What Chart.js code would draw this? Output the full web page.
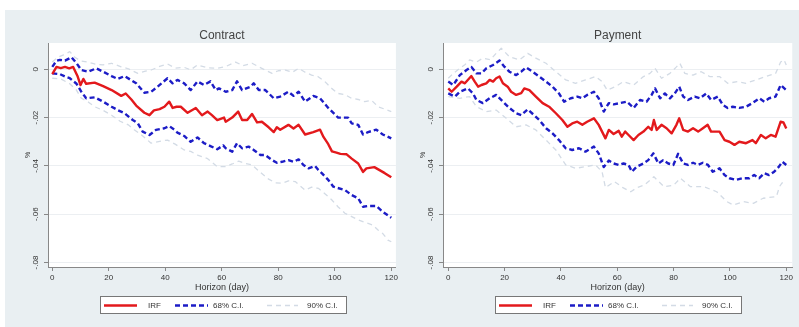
<!DOCTYPE html>
<html>
<head>
<meta charset="utf-8">
<script src="https://cdn.jsdelivr.net/npm/chart.js@4.4.1/dist/chart.umd.min.js"></script>
<style>
  body { margin: 0; background: #fff; width: 799px; height: 327px; overflow: hidden; position: relative; }
  #bg { position: absolute; left: 5px; top: 10px; right: 0; bottom: 0; background: #e9eff2; }
  .box { position: absolute; top: 0; width: 400px; height: 327px; }
</style>
</head>
<body>
<div id="bg"></div>
<div class="box" style="left:0"><canvas id="contract"></canvas></div>
<div class="box" style="left:395px"><canvas id="payment"></canvas></div>
<script>
// values: [day, %]
const xTickValues = [0, 20, 40, 60, 80, 100, 120];
const xTickLabels = ['0', '20', '40', '60', '80', '100', '120'];
const yTickValues = [-0.08, -0.06, -0.04, -0.02, 0];
const yTickLabels = ['-.08', '-.06', '-.04', '-.02', '0'];
const seriesNames = ['IRF', '68% C.I.', '90% C.I.'];

// Contract
const contractIrf = [[0,-0.002],[1.5,0.001],[3,0.0005],[4.5,0.001],[6,0.0004],[7.4,0.001],[9,-0.003],[10,-0.0065],[11,-0.004],[12,-0.006],[15,-0.0055],[18,-0.007],[21,-0.0086],[24.4,-0.011],[26,-0.010],[28,-0.0125],[29.7,-0.015],[32.6,-0.018],[34.4,-0.019],[36,-0.017],[38,-0.0165],[39.7,-0.0155],[41.4,-0.0134],[42.6,-0.016],[44,-0.0155],[45.5,-0.0155],[47.9,-0.018],[50.8,-0.016],[53,-0.019],[55,-0.0175],[56.5,-0.019],[58.4,-0.021],[60.8,-0.020],[61.4,-0.0217],[63.7,-0.020],[65.8,-0.0175],[67.2,-0.021],[69,-0.021],[70.7,-0.0185],[72.5,-0.022],[74.2,-0.0217],[76.6,-0.024],[78.4,-0.026],[79.5,-0.024],[80.7,-0.025],[83.6,-0.023],[85.4,-0.0245],[87.2,-0.023],[89.5,-0.027],[92.4,-0.026],[94.8,-0.025],[96,-0.028],[97.7,-0.031],[99,-0.034],[100.6,-0.0345],[102,-0.035],[104.2,-0.0352],[106,-0.037],[108.3,-0.039],[110,-0.0425],[111.2,-0.041],[114,-0.0405],[117.7,-0.043],[120,-0.0447]];
const contractHi68 = [[0,0.001],[1.5,0.0035],[2.7,0.0039],[4.5,0.0036],[6.8,0.005],[8.6,0.0025],[10.3,-0.0003],[12.7,-0.001],[15.6,0.0004],[18,-0.001],[21,-0.0028],[23.2,-0.004],[25.6,-0.0028],[29.7,-0.0058],[32.6,-0.0097],[35,-0.0093],[37.3,-0.0072],[40.8,-0.0037],[42.6,-0.0058],[44.3,-0.0044],[46.7,-0.0058],[49,-0.0086],[51.4,-0.005],[53.7,-0.0065],[56,-0.005],[57.9,-0.0086],[59,-0.0079],[61.4,-0.0093],[63.7,-0.0086],[65.4,-0.005],[67.2,-0.0086],[70.2,-0.0072],[71.3,-0.0058],[73.1,-0.0086],[75.4,-0.0086],[78.4,-0.012],[80.7,-0.0113],[83.6,-0.0093],[85.4,-0.011],[87.2,-0.0093],[89.5,-0.0134],[92.4,-0.011],[94.8,-0.012],[97.7,-0.016],[101.2,-0.020],[104.7,-0.020],[106,-0.0224],[108.3,-0.023],[110,-0.027],[111.8,-0.026],[114.7,-0.025],[117,-0.027],[120,-0.0286]];
const contractLo68 = [[0,-0.0017],[2.7,-0.002],[4.5,-0.003],[6.2,-0.0037],[8.6,-0.006],[10.3,-0.0093],[12,-0.012],[15,-0.0116],[18,-0.0134],[21,-0.0155],[23.2,-0.0169],[25.6,-0.0182],[28.5,-0.021],[30.3,-0.0224],[32,-0.0258],[34.4,-0.0272],[36.7,-0.0251],[39.7,-0.0244],[41.4,-0.0235],[43.2,-0.025],[44.3,-0.0262],[46.7,-0.0276],[49,-0.030],[51.4,-0.0282],[53.7,-0.0306],[56,-0.0318],[58.4,-0.0331],[60.5,-0.0315],[61.4,-0.0327],[63.7,-0.0341],[65.4,-0.0306],[67.2,-0.0327],[69.5,-0.032],[71.3,-0.0334],[73.7,-0.0355],[75.4,-0.0355],[77.8,-0.0376],[79.5,-0.0387],[81.3,-0.0383],[83.6,-0.0376],[85.4,-0.0383],[87.2,-0.0373],[88.9,-0.0396],[90.7,-0.041],[93,-0.040],[94.2,-0.0417],[95.4,-0.043],[97.7,-0.0458],[99.5,-0.0486],[100.6,-0.049],[103.6,-0.050],[105.9,-0.052],[108.3,-0.0534],[110,-0.0569],[111.8,-0.0566],[114.7,-0.0566],[117,-0.059],[119.4,-0.061],[120,-0.0615]];
const contractHi90 = [[0,0.003],[2,0.005],[4,0.006],[6.2,0.0073],[8,0.005],[10,0.0035],[12.7,0.003],[15,0.0022],[18,0.0018],[21,0.0025],[24.4,0.001],[27,0.0002],[30.3,-0.0017],[33,-0.0008],[35,-0.0003],[38,0.0012],[40.8,0.0022],[43.5,0.0005],[46.7,0.0008],[49,-0.0002],[51.4,0.0018],[55,0.0006],[58.4,0.0004],[61.5,0.0012],[64.9,0.003],[67.5,0.0015],[70.7,0.0025],[74,0.0005],[77.8,-0.0017],[80,-0.0006],[82.5,-0.0003],[85,-0.0012],[87.2,0.0004],[89.5,-0.0012],[91.8,-0.0024],[94,-0.003],[96.5,-0.0051],[99,-0.008],[101.2,-0.010],[103.6,-0.0105],[105.9,-0.012],[108.3,-0.0125],[110.6,-0.0134],[113,-0.0128],[115.3,-0.0155],[117.7,-0.0165],[120,-0.0175]];
const contractLo90 = [[0,-0.0037],[3,-0.004],[6.2,-0.006],[8.5,-0.0085],[10.3,-0.012],[12.7,-0.0135],[15,-0.0155],[18,-0.017],[21,-0.019],[24,-0.0215],[26.9,-0.023],[29,-0.025],[31.6,-0.0272],[35,-0.0306],[38,-0.0298],[40.8,-0.0293],[43.5,-0.031],[46.7,-0.0334],[49,-0.034],[51.4,-0.0355],[55,-0.037],[58.4,-0.0403],[61.4,-0.0403],[63.7,-0.0392],[66,-0.038],[68.5,-0.039],[70.7,-0.0396],[73,-0.042],[76.6,-0.0455],[79,-0.047],[81.3,-0.0472],[83.6,-0.0462],[86,-0.0465],[89.5,-0.050],[91.8,-0.0488],[94.2,-0.0493],[96.5,-0.0515],[98.9,-0.054],[101.2,-0.057],[103.6,-0.0596],[106,-0.061],[108.3,-0.0624],[111.8,-0.0638],[113.5,-0.0645],[115.3,-0.0665],[117,-0.068],[118.8,-0.0707],[120,-0.0714]];

// Payment
const paymentIrf = [[0,-0.0079],[1.2,-0.0093],[3,-0.0072],[4.7,-0.0051],[5.9,-0.0058],[8.2,-0.0028],[9.4,-0.0051],[10.6,-0.0072],[11.8,-0.0065],[13.5,-0.0058],[14.7,-0.0044],[15.9,-0.0051],[17,-0.0037],[18.2,-0.003],[19.4,-0.0058],[21.1,-0.0072],[22.3,-0.0093],[24.1,-0.0106],[25.9,-0.0099],[27,-0.0079],[28.8,-0.0086],[31.1,-0.0113],[33.5,-0.014],[35.8,-0.0155],[38.2,-0.0182],[40.5,-0.021],[42.3,-0.0238],[44,-0.0224],[45.8,-0.0217],[47.6,-0.023],[49.3,-0.0217],[51.7,-0.0203],[53.4,-0.023],[55.8,-0.0286],[57,-0.0251],[58.7,-0.0268],[60.5,-0.0255],[61.6,-0.0279],[62.8,-0.0258],[64,-0.0272],[65.8,-0.0293],[67.5,-0.0272],[69.3,-0.0258],[71,-0.0238],[72.2,-0.0251],[73,-0.021],[74,-0.0251],[75.7,-0.023],[77.5,-0.0244],[79.3,-0.0265],[81,-0.023],[82,-0.0203],[83.4,-0.0251],[85.1,-0.0258],[86.9,-0.0244],[88.7,-0.0258],[90.4,-0.0244],[92.1,-0.023],[93.3,-0.0258],[96.3,-0.0258],[98.1,-0.0293],[99.8,-0.030],[101.6,-0.0313],[103.3,-0.030],[105.7,-0.0306],[108,-0.0293],[109.2,-0.0306],[111,-0.0272],[112.7,-0.0286],[114.5,-0.0272],[116.2,-0.0279],[118,-0.0217],[119,-0.022],[120,-0.0245]];
const paymentHi68 = [[0,-0.0051],[1.8,-0.0065],[4.1,-0.0024],[6.5,-0.0003],[8.2,0.001],[10,-0.0017],[11.8,-0.0017],[13.5,0.0004],[15.9,0.0018],[18.2,0.0036],[20,0.001],[21.7,-0.001],[24.1,-0.0024],[25.9,-0.001],[27.6,0.0008],[29.9,-0.001],[32.3,-0.003],[34.7,-0.0051],[37,-0.0072],[39.3,-0.010],[41.1,-0.0134],[43.5,-0.012],[45.8,-0.0113],[47.6,-0.012],[49.3,-0.0106],[51.7,-0.0093],[53.4,-0.012],[55.2,-0.0175],[57,-0.014],[58.7,-0.0145],[61,-0.014],[63.4,-0.0134],[65.8,-0.016],[68.1,-0.0127],[70.4,-0.0134],[72.2,-0.0106],[73.4,-0.0079],[75.2,-0.012],[76.9,-0.010],[78.7,-0.012],[80.4,-0.010],[82,-0.0072],[83.4,-0.0113],[85.1,-0.0127],[87.5,-0.0113],[89.3,-0.012],[91.6,-0.010],[93.3,-0.0127],[95.7,-0.0113],[97.5,-0.0148],[99.2,-0.016],[101,-0.0155],[103.3,-0.016],[105.7,-0.0155],[108,-0.014],[110.4,-0.012],[112.2,-0.0134],[113.9,-0.012],[116.2,-0.0113],[118,-0.0065],[120,-0.0086]];
const paymentLo68 = [[0,-0.010],[2.4,-0.0113],[4.1,-0.0093],[7,-0.0079],[8.8,-0.010],[10,-0.0127],[12.3,-0.014],[14.7,-0.012],[17,-0.0106],[19.4,-0.0134],[21.7,-0.016],[24.1,-0.0182],[25.9,-0.019],[28.2,-0.0166],[30.5,-0.019],[32.3,-0.021],[34.7,-0.0244],[37,-0.0265],[39.3,-0.0293],[41.7,-0.0327],[44,-0.0334],[46.4,-0.0327],[48.7,-0.0341],[51.7,-0.032],[53.4,-0.0348],[55.2,-0.0405],[57,-0.0378],[58.7,-0.039],[60.5,-0.0396],[62.2,-0.039],[64,-0.0396],[65.2,-0.0424],[66.9,-0.0403],[69.3,-0.039],[71,-0.0376],[72.8,-0.0348],[74.6,-0.039],[76.3,-0.0376],[78.1,-0.039],[79.9,-0.0396],[81.6,-0.035],[83.4,-0.039],[85.1,-0.0396],[86.9,-0.0387],[88.7,-0.0396],[90.4,-0.0387],[92.2,-0.0396],[93.9,-0.0424],[96.3,-0.041],[98.1,-0.0438],[99.8,-0.0451],[102.2,-0.0458],[104.5,-0.0451],[106.9,-0.0451],[108.6,-0.0438],[110.4,-0.0451],[112.2,-0.043],[113.9,-0.0438],[115.7,-0.0424],[117.4,-0.0403],[118.6,-0.0383],[120,-0.0396]];
const paymentHi90 = [[0,-0.0037],[2,-0.0015],[4.1,0.0004],[6,0.002],[7.6,0.0039],[10,0.003],[12.3,0.0046],[15,0.004],[17,0.0066],[18.8,0.0087],[21.7,0.0052],[25.3,0.0039],[28.2,0.0066],[31.1,0.0046],[34.7,0.0025],[38.2,-0.001],[41.7,-0.0044],[45.2,-0.0058],[48.7,-0.0044],[52.3,-0.003],[54.6,-0.0051],[56.4,-0.0086],[59.3,-0.0072],[62.2,-0.0051],[65.8,-0.0065],[69.3,-0.003],[71.6,-0.0017],[73.4,0.0004],[75.7,-0.0037],[78.7,-0.0017],[81,0.001],[82.2,0.0025],[84,-0.0017],[86.9,-0.0024],[89.8,-0.001],[92.8,-0.003],[96.3,-0.003],[99.2,-0.0058],[102.7,-0.0051],[105.7,-0.0058],[109.2,-0.0044],[112.7,-0.003],[116.2,-0.0017],[118,0.003],[119.2,0.0039],[120,0.0018]];
const paymentLo90 = [[0,-0.0113],[4.1,-0.012],[7.6,-0.0113],[10,-0.0155],[13.5,-0.0175],[17,-0.0169],[20.6,-0.0203],[24.1,-0.0238],[27.6,-0.023],[31.1,-0.0251],[34.7,-0.0293],[38.2,-0.0334],[41.7,-0.0396],[45.2,-0.041],[48.7,-0.0403],[52.3,-0.0396],[54.6,-0.0424],[55.8,-0.049],[59,-0.0465],[62,-0.049],[64.8,-0.0507],[67,-0.049],[69.5,-0.048],[73,-0.0445],[76.6,-0.0486],[80,-0.048],[82.4,-0.0451],[86,-0.0486],[90.7,-0.0486],[95.3,-0.0507],[98.9,-0.0548],[101.2,-0.0562],[104.8,-0.0548],[108.3,-0.0555],[111.8,-0.0534],[116.5,-0.0527],[117.6,-0.0486],[118.5,-0.047],[120,-0.047]];

const FONT = '"Liberation Sans", Arial, sans-serif';
Chart.defaults.font.family = FONT;
Chart.defaults.color = '#333';

// white plot region like Stata
const plotRegion = {
  id: 'plotRegion',
  beforeDraw(chart) {
    const a = chart.chartArea;
    chart.ctx.save();
    chart.ctx.fillStyle = '#fff';
    chart.ctx.fillRect(a.left, a.top, a.right - a.left, a.bottom - a.top);
    chart.ctx.restore();
  }
};

// boxed legend under the plot
const boxLegend = {
  id: 'boxLegend',
  afterDraw(chart) {
    const ctx = chart.ctx;
    const ds = chart.data.datasets;
    ctx.save();
    ctx.fillStyle = '#fff';
    ctx.fillRect(100.5, 296.5, 246, 17);
    ctx.strokeStyle = '#777';
    ctx.lineWidth = 1;
    ctx.strokeRect(100.5, 296.5, 246, 17);
    const items = [[0, 104, 137, 148], [1, 175, 208, 213], [3, 267, 298, 307]];
    const y = 305.5;
    items.forEach(it => {
      const d = ds[it[0]];
      ctx.beginPath();
      ctx.strokeStyle = d.borderColor;
      ctx.lineWidth = d.borderWidth;
      ctx.setLineDash(d.borderDash || []);
      ctx.moveTo(it[1], y);
      ctx.lineTo(it[2], y);
      ctx.stroke();
      ctx.setLineDash([]);
      ctx.fillStyle = '#333';
      ctx.font = '8px ' + FONT;
      ctx.textBaseline = 'middle';
      ctx.fillText(d.label, it[3], y);
    });
    ctx.restore();
  }
};

function makeChart(id, title, irf, hi68, lo68, hi90, lo90, xMin, xMax, padRight) {
  const red = '#e3191c', blue = '#1c1cc6', light = '#d3dbe5';
  return new Chart(document.getElementById(id), {
    type: 'line',
    data: {
      datasets: [
        { label: seriesNames[0], data: irf, borderColor: red, borderWidth: 2.4 },
        { label: seriesNames[1], data: hi68, borderColor: blue, borderWidth: 2.4, borderDash: [5, 3] },
        { label: seriesNames[1], data: lo68, borderColor: blue, borderWidth: 2.4, borderDash: [5, 3] },
        { label: seriesNames[2], data: hi90, borderColor: light, borderWidth: 1.3, borderDash: [5, 4] },
        { label: seriesNames[2], data: lo90, borderColor: light, borderWidth: 1.3, borderDash: [5, 4] }
      ]
    },
    options: {
      responsive: true,
      maintainAspectRatio: false,
      animation: false,
      devicePixelRatio: 1,
      elements: { point: { radius: 0 }, line: { tension: 0, borderJoinStyle: 'round' } },
      layout: { padding: { left: 24, right: padRight, top: 0, bottom: 33.6 } },
      plugins: {
        legend: { display: false },
        tooltip: { enabled: false },
        title: {
          display: true, text: title, fullSize: false, color: '#444',
          font: { size: 12, weight: 'normal' }, padding: { top: 28, bottom: 0.6 }
        }
      },
      scales: {
        x: {
          type: 'linear', min: xMin, max: xMax,
          afterBuildTicks: s => { s.ticks = xTickValues.map(v => ({ value: v })); },
          afterFit: s => { s.height = 26.4; },
          ticks: { autoSkip: false, maxRotation: 0, padding: 2, font: { size: 8 }, color: '#333',
                   callback: (v, i) => xTickLabels[i] },
          grid: { drawOnChartArea: false, tickColor: '#888', tickLength: 4 },
          border: { color: '#888' },
          title: { display: true, text: 'Horizon (day)', font: { size: 9 }, color: '#333', padding: 0 }
        },
        y: {
          min: -0.08186, max: 0.01089,
          afterBuildTicks: s => { s.ticks = yTickValues.map(v => ({ value: v })); },
          afterFit: s => { s.width = 24; },
          ticks: { minRotation: 90, maxRotation: 90, crossAlign: 'center', padding: 1.5,
                   font: { size: 8 }, color: '#333', callback: (v, i) => yTickLabels[i] },
          grid: { color: '#eceff2', tickColor: '#888', tickLength: 4 },
          border: { color: '#888' },
          title: { display: true, text: '%', font: { size: 7 }, color: '#333', padding: 0 }
        }
      }
    },
    plugins: [plotRegion, boxLegend]
  });
}

makeChart('contract', 'Contract', contractIrf, contractHi68, contractLo68, contractHi90, contractLo90, -1.51, 121.64, 2);
makeChart('payment', 'Payment', paymentIrf, paymentHi68, paymentLo68, paymentHi90, paymentLo90, -1.87, 122.12, 0);
</script>
</body>
</html>
